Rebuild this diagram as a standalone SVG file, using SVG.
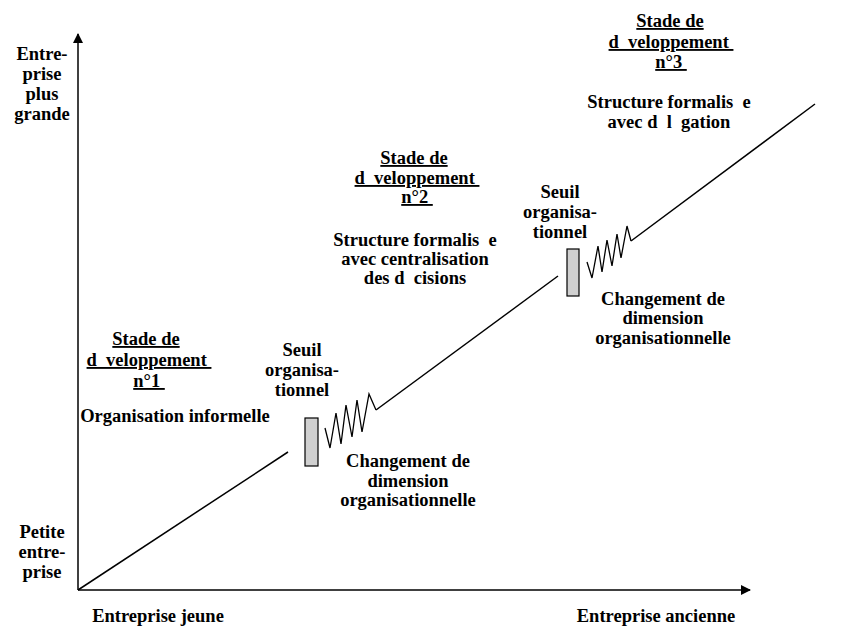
<svg xmlns="http://www.w3.org/2000/svg" width="850" height="638" viewBox="0 0 850 638">
<style>
text{font-family:"Liberation Serif","Times New Roman",serif;font-weight:bold;font-size:18.5px;fill:#000;text-anchor:middle;white-space:pre}
.u{text-decoration:underline}
.ln{stroke:#000;stroke-width:1.5;fill:none}
.zz{stroke:#000;stroke-width:1.3;fill:none;stroke-linejoin:miter}
.rc{fill:#d0d0d0;stroke:#000;stroke-width:1.2}
</style>
<defs>
<marker id="ah" viewBox="0 0 10 10" refX="9" refY="5" markerWidth="10" markerHeight="10" markerUnits="userSpaceOnUse" orient="auto">
<path d="M0,0 L10,5 L0,10 z" fill="#000"/>
</marker>
</defs>
<rect width="850" height="638" fill="#fff"/>
<g id="connectors">
<line class="ln" x1="78" y1="590" x2="78" y2="34" marker-end="url(#ah)"/>
<line class="ln" x1="78" y1="590" x2="750" y2="590" marker-end="url(#ah)"/>
<line class="ln" x1="78" y1="590" x2="288" y2="452"/>
<polyline class="zz" points="325,428 330,448 336,413 341,444 346,405 352,437 357,400 362,432 369,394 376,410"/>
<line class="ln" x1="376" y1="410" x2="558" y2="276"/>
<polyline class="zz" points="587,262 592,278 598,246 602,272 607,240 612,266 617,234 621,258 627,226 631,241"/>
<line class="ln" x1="631" y1="241" x2="815" y2="104"/>
</g>
<g id="threshold1"><rect class="rc" x="305" y="418" width="13" height="48"/></g>
<g id="threshold2"><rect class="rc" x="567" y="249" width="12" height="47"/></g>
<g id="yaxis-top">
<text x="42" y="60">Entre-</text>
<text x="42" y="80">prise</text>
<text x="42" y="100">plus</text>
<text x="42" y="120">grande</text>
</g>
<g id="yaxis-bottom">
<text x="42" y="538">Petite</text>
<text x="42" y="558">entre-</text>
<text x="42" y="578">prise</text>
</g>
<g id="xaxis-left"><text x="158" y="622">Entreprise jeune</text></g>
<g id="xaxis-right"><text x="656" y="622">Entreprise ancienne</text></g>
<g id="stage1">
<text class="u" x="146" y="345">Stade de</text>
<text class="u" x="149" y="366">d  veloppement </text>
<text class="u" x="149" y="387">n°1 </text>
<text x="175" y="422">Organisation informelle</text>
</g>
<g id="seuil1">
<text x="302" y="356">Seuil</text>
<text x="302" y="376">organisa-</text>
<text x="302" y="396">tionnel</text>
</g>
<g id="change1">
<text x="408" y="467">Changement de</text>
<text x="408" y="487">dimension</text>
<text x="408" y="506">organisationnelle</text>
</g>
<g id="stage2">
<text class="u" x="414" y="164">Stade de</text>
<text class="u" x="417" y="184">d  veloppement </text>
<text class="u" x="417" y="203">n°2 </text>
<text x="415" y="246">Structure formalis  e</text>
<text x="415" y="265">avec centralisation</text>
<text x="415" y="284">des d  cisions</text>
</g>
<g id="seuil2">
<text x="560" y="198">Seuil</text>
<text x="560" y="218">organisa-</text>
<text x="560" y="238">tionnel</text>
</g>
<g id="change2">
<text x="663" y="305">Changement de</text>
<text x="663" y="324">dimension</text>
<text x="663" y="344">organisationnelle</text>
</g>
<g id="stage3">
<text class="u" x="670" y="27">Stade de</text>
<text class="u" x="671" y="48">d  veloppement </text>
<text class="u" x="671" y="68">n°3 </text>
<text x="669" y="108">Structure formalis  e</text>
<text x="669" y="128">avec d  l  gation</text>
</g>
</svg>
